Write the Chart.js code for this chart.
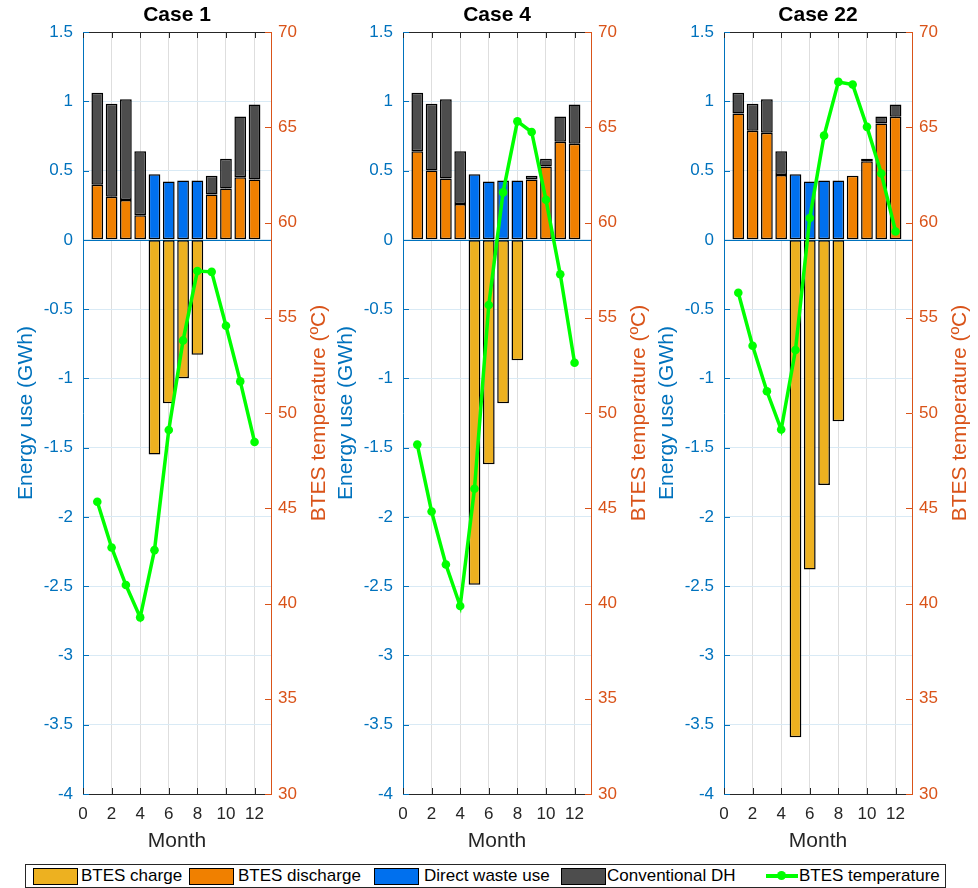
<!DOCTYPE html>
<html>
<head>
<meta charset="utf-8">
<script src="https://cdn.jsdelivr.net/npm/chart.js@4.4.1/dist/chart.umd.min.js"></script>
<style>
    body { margin: 0; background: #fff; overflow: hidden; font-family: "Liberation Sans", Arial, sans-serif; }
    #wrap { position: relative; width: 978px; height: 888px; }
    canvas { position: absolute; top: 0; }
    #legend { position: absolute; left: 25px; top: 864px; width: 919px; height: 22px; border: 1px solid #262626; background: #fff; }
    .sw { position: absolute; top: 3px; width: 43px; height: 15px; border: 1px solid #000; }
    .lt { position: absolute; top: 1px; font-size: 17px; line-height: 20px; color: #000; white-space: nowrap; }
    .ln { position: absolute; top: 9px; width: 32px; height: 4px; background: #00ff00; }
    .dot { position: absolute; top: 6px; width: 9px; height: 9px; border-radius: 50%; background: #00ff00; }
</style>
</head>
<body>
<div id="wrap">
    <canvas id="case1" width="340" height="860" style="left:0px"></canvas>
    <canvas id="case4" width="340" height="860" style="left:320px"></canvas>
    <canvas id="case22" width="337" height="860" style="left:641px"></canvas>

    <div id="legend">
        <div class="sw" style="left:7px; background:#edb120"></div>
        <div class="lt" style="left:55px">BTES charge</div>
        <div class="sw" style="left:163px; background:#f08000"></div>
        <div class="lt" style="left:212px">BTES discharge</div>
        <div class="sw" style="left:348px; background:#0070ee"></div>
        <div class="lt" style="left:398px">Direct waste use</div>
        <div class="sw" style="left:535px; background:#4d4d4d"></div>
        <div class="lt" style="left:581px">Conventional DH</div>
        <div class="ln" style="left:740px"></div>
        <div class="dot" style="left:751px"></div>
        <div class="lt" style="left:773px">BTES temperature</div>
    </div>
</div>

<script>
// months on the x axis
const months = [1, 2, 3, 4, 5, 6, 7, 8, 9, 10, 11, 12];
const monthRange = [0, 13.15];
const energyRange = [-4, 1.5];
const tempRange = [30, 70];

const caseNames = ["Case 1", "Case 4", "Case 22"];

// direct waste heat use is the same in all cases (GWh)
const directWaste = [null, null, null, null, 0.474, 0.421, 0.428, 0.428, null, null, null, null];

// Case 1
const charge1 = [null, null, null, null, -1.55, -1.18, -1.00, -0.83, null, null, null, null];
const discharge1 = [0.397, 0.311, 0.287, 0.177, null, null, null, null, 0.328, 0.371, 0.452, 0.436];
const conventional1 = [0.665, 0.672, 0.728, 0.462, null, null, null, null, 0.134, 0.215, 0.438, 0.540];
const temp1 = [45.34, 42.94, 40.97, 39.27, 42.80, 49.11, 53.81, 57.45, 57.41, 54.58, 51.66, 48.48];

// Case 4
const charge4 = [null, null, null, null, -2.49, -1.62, -1.18, -0.87, null, null, null, null];
const discharge4 = [0.639, 0.500, 0.443, 0.258, null, null, null, null, 0.436, 0.529, 0.708, 0.694];
const conventional4 = [0.423, 0.483, 0.572, 0.381, null, null, null, null, 0.026, 0.057, 0.182, 0.282];
const temp4 = [48.34, 44.83, 42.05, 39.87, 46.02, 55.67, 61.58, 65.31, 64.75, 61.19, 57.28, 52.64];

// Case 22
const charge22 = [null, null, null, null, -3.59, -2.38, -1.77, -1.31, null, null, null, null];
const discharge22 = [0.912, 0.788, 0.773, 0.467, null, null, null, null, 0.462, 0.567, 0.840, 0.888];
const conventional22 = [0.150, 0.195, 0.242, 0.172, null, null, null, null, null, 0.019, 0.050, 0.088];
const temp22 = [56.31, 53.53, 51.14, 49.13, 53.31, 60.24, 64.56, 67.38, 67.24, 65.02, 62.57, 59.53];

const leftColor = "#0072bd";
const rightColor = "#d95319";
const axisGrey = "#262626";

Chart.defaults.font.family = '"Liberation Sans", Arial, sans-serif';

const toPoints = arr => months.map((m, i) => ({ x: m, y: arr[i] }));

// matlab prints 1 not 1.0
const shortLabel = v => {
    const r = Math.round(v * 10) / 10;
    return r === 0 ? "0" : String(r);
};

// MATLAB style frame: top border, bar baseline, ticks pointing inward, right axis label reading upward
const axisFrame = {
    id: "axisFrame",
    beforeDatasetsDraw(chart) {
        const { ctx, chartArea: a, scales } = chart;
        const py = Math.round(scales.y.getPixelForValue(0)) + 0.5;
        ctx.save();
        ctx.strokeStyle = leftColor;
        ctx.lineWidth = 1;
        ctx.beginPath();
        ctx.moveTo(a.left, py);
        ctx.lineTo(a.right, py);
        ctx.stroke();
        ctx.restore();
    },
    afterDraw(chart) {
        const { ctx, chartArea: a, scales } = chart;
        ctx.save();
        ctx.lineWidth = 1;
        ctx.strokeStyle = axisGrey;
        ctx.beginPath();
        ctx.moveTo(a.left, a.top + 0.5);
        ctx.lineTo(a.right, a.top + 0.5);
        ctx.stroke();

        scales.x.ticks.forEach(t => {
            const px = Math.round(scales.x.getPixelForValue(t.value)) + 0.5;
            ctx.beginPath();
            ctx.moveTo(px, a.bottom);
            ctx.lineTo(px, a.bottom - 6);
            ctx.moveTo(px, a.top);
            ctx.lineTo(px, a.top + 6);
            ctx.stroke();
        });

        ctx.strokeStyle = leftColor;
        scales.y.ticks.forEach(t => {
            const py = Math.round(scales.y.getPixelForValue(t.value)) + 0.5;
            ctx.beginPath();
            ctx.moveTo(a.left, py);
            ctx.lineTo(a.left + 6, py);
            ctx.stroke();
        });

        ctx.strokeStyle = rightColor;
        scales.y2.ticks.forEach(t => {
            const py = Math.round(scales.y2.getPixelForValue(t.value)) + 0.5;
            ctx.beginPath();
            ctx.moveTo(a.right, py);
            ctx.lineTo(a.right - 6, py);
            ctx.stroke();
        });

        ctx.translate(a.right + 48, (a.top + a.bottom) / 2);
        ctx.rotate(-Math.PI / 2);
        ctx.fillStyle = rightColor;
        ctx.font = '21px "Liberation Sans", Arial, sans-serif';
        ctx.textAlign = "center";
        ctx.textBaseline = "middle";
        ctx.fillText("BTES temperature (\u00baC)", 0, 0);
        ctx.restore();
    }
};

function makePanel(canvasId, title, charge, discharge, conventional, temp) {
    const canvas = document.getElementById(canvasId);
    const rightWidth = canvas.width - 83 - 188;

    const barStyle = {
        type: "bar",
        stack: "energy",
        borderColor: "#000",
        borderWidth: 1.5,
        borderSkipped: false,
        categoryPercentage: 0.82,
        barPercentage: 1,
        order: 1
    };

    return new Chart(canvas, {
        type: "bar",
        data: {
            datasets: [
                {
                    type: "line",
                    label: "BTES temperature",
                    data: toPoints(temp),
                    yAxisID: "y2",
                    borderColor: "#00ff00",
                    backgroundColor: "#00ff00",
                    borderWidth: 3.5,
                    pointRadius: 4.3,
                    pointBorderWidth: 0,
                    tension: 0,
                    order: 0
                },
                { ...barStyle, label: "BTES charge", data: toPoints(charge), backgroundColor: "#edb120" },
                { ...barStyle, label: "BTES discharge", data: toPoints(discharge), backgroundColor: "#f08000" },
                { ...barStyle, label: "Direct waste use", data: toPoints(directWaste), backgroundColor: "#0070ee" },
                { ...barStyle, label: "Conventional DH", data: toPoints(conventional), backgroundColor: "#4d4d4d" }
            ]
        },
        options: {
            responsive: false,
            animation: false,
            devicePixelRatio: 1,
            layout: { padding: 0 },
            plugins: {
                legend: { display: false },
                tooltip: { enabled: false },
                title: {
                    display: true,
                    text: title,
                    fullSize: false,
                    color: "#000",
                    font: { size: 21, weight: "bold" },
                    padding: { top: 2.4, bottom: 4.4 }
                }
            },
            scales: {
                x: {
                    type: "linear",
                    stacked: true,
                    offset: false,
                    min: monthRange[0],
                    max: monthRange[1],
                    afterFit: s => { s.height = 66; },
                    ticks: { stepSize: 2, includeBounds: false, color: axisGrey, font: { size: 17 }, padding: 10, maxRotation: 0 },
                    grid: { offset: false, color: "#dedede", drawTicks: false },
                    border: { color: axisGrey, width: 1 },
                    title: { display: true, text: "Month", color: axisGrey, font: { size: 21 }, padding: { top: 0, bottom: 6.4 } }
                },
                y: {
                    position: "left",
                    stacked: true,
                    min: energyRange[0],
                    max: energyRange[1],
                    afterFit: s => { s.width = 83; },
                    ticks: { stepSize: 0.5, color: leftColor, font: { size: 17 }, padding: 10, callback: shortLabel },
                    grid: { color: "#d9eaf5", drawTicks: false },
                    border: { color: leftColor, width: 1 },
                    title: { display: true, text: "Energy use (GWh)", color: leftColor, font: { size: 21 }, padding: { top: 14, bottom: 0 } }
                },
                y2: {
                    position: "right",
                    min: tempRange[0],
                    max: tempRange[1],
                    afterFit: s => { s.width = rightWidth; },
                    ticks: { stepSize: 5, color: rightColor, font: { size: 17 }, padding: 7 },
                    grid: { display: false, drawTicks: false },
                    border: { color: rightColor, width: 1 }
                }
            }
        },
        plugins: [axisFrame]
    });
}

makePanel("case1", caseNames[0], charge1, discharge1, conventional1, temp1);
makePanel("case4", caseNames[1], charge4, discharge4, conventional4, temp4);
makePanel("case22", caseNames[2], charge22, discharge22, conventional22, temp22);
</script>
</body>
</html>
